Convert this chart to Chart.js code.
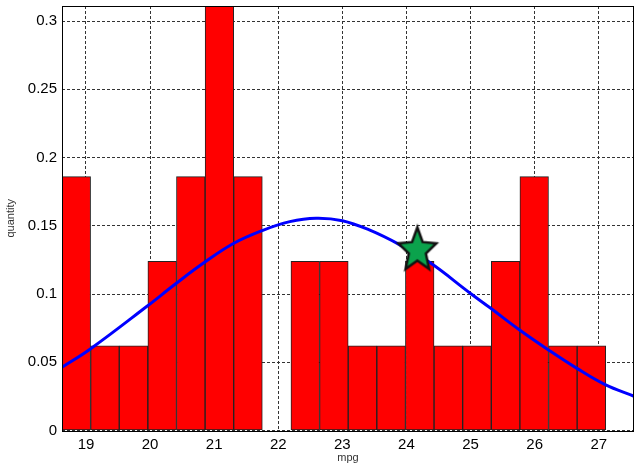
<!DOCTYPE html>
<html>
<head>
<meta charset="utf-8">
<script src="https://cdn.jsdelivr.net/npm/chart.js@4/dist/chart.umd.min.js"></script>
<style>
  html, body { margin: 0; padding: 0; background: #fff; }
</style>
</head>
<body>
<canvas id="histChart" width="636" height="468"></canvas>
<script>
// histogram bins (centres) and heights
const binCenters = [18.849, 19.296, 19.742, 20.189, 20.635, 21.082, 21.528, 21.975, 22.421, 22.868,
                    23.314, 23.761, 24.207, 24.654, 25.100, 25.547, 25.993, 26.440, 26.886];
const binHeights = [0.186, 0.062, 0.062, 0.124, 0.186, 0.312, 0.186, 0, 0.124, 0.124,
                    0.062, 0.062, 0.124, 0.062, 0.062, 0.124, 0.186, 0.062, 0.062];

// fitted curve
const curveX = [18.626, 19.062, 19.952, 20.40, 20.85, 21.30, 21.75, 22.18, 22.59, 23.00,
                23.42, 23.89, 24.36, 25.00, 25.31, 25.76, 26.21, 26.66, 27.10, 27.55];
const curveY = [0.0463, 0.0595, 0.0910, 0.1075, 0.1232, 0.1370, 0.1465, 0.1530, 0.1555, 0.1537,
                0.1469, 0.1362, 0.1232, 0.1004, 0.0897, 0.0738, 0.0592, 0.0455, 0.0336, 0.0251];

// star marker
const starX = [24.17];
const starY = [0.132];

const xTicks = [19, 20, 21, 22, 23, 24, 25, 26, 27];
const xTickLabels = ["19", "20", "21", "22", "23", "24", "25", "26", "27"];
const yTicks = [0, 0.05, 0.1, 0.15, 0.2, 0.25, 0.3];
const yTickLabels = ["0", "0.05", "0.1", "0.15", "0.2", "0.25", "0.3"];

const FONT = "'Liberation Sans', Arial, sans-serif";

// pentagram image used as point style
function makeStar(rx, ry) {
    const c = document.createElement("canvas");
    c.width = Math.ceil(rx * 2 + 8);
    c.height = Math.ceil(ry * 2 + 8);
    const g = c.getContext("2d");
    const cx = c.width / 2, cy = c.height / 2;
    g.beginPath();
    for (let i = 0; i < 10; i++) {
        const a = -Math.PI / 2 + i * Math.PI / 5;
        const k = i % 2 === 0 ? 1 : 0.45;
        const px = cx + Math.cos(a) * rx * k;
        const py = cy + Math.sin(a) * ry * k;
        if (i === 0) g.moveTo(px, py); else g.lineTo(px, py);
    }
    g.closePath();
    g.fillStyle = "#0ba24c";
    g.fill();
    g.lineWidth = 2.5;
    g.lineJoin = "miter";
    g.strokeStyle = "#111";
    g.stroke();
    return c;
}

// solid box round the plot area
const frame = {
    id: "frame",
    afterDatasetsDraw(chart) {
        const a = chart.chartArea;
        const ctx = chart.ctx;
        ctx.save();
        ctx.strokeStyle = "#000";
        ctx.lineWidth = 1;
        ctx.strokeRect(Math.round(a.left) + 0.5, Math.round(a.top) + 0.5,
                       Math.round(a.right - a.left) - 1, Math.round(a.bottom - a.top));
        ctx.restore();
    }
};

function noPad(s) {
    s.paddingTop = 0;
    s.paddingBottom = 0;
    s.paddingLeft = 0;
    s.paddingRight = 0;
}

const ctx = document.getElementById("histChart").getContext("2d");

new Chart(ctx, {
    type: "bar",
    data: {
        datasets: [
            {
                type: "scatter",
                data: starX.map((x, i) => ({ x: x, y: starY[i] })),
                pointStyle: makeStar(20, 23),
                pointRadius: 20,
                order: 0
            },
            {
                type: "line",
                data: curveX.map((x, i) => ({ x: x, y: curveY[i] })),
                borderColor: "#0000ff",
                borderWidth: 3,
                pointRadius: 0,
                tension: 0.4,
                fill: false,
                order: 1
            },
            {
                type: "bar",
                data: binCenters.map((x, i) => ({ x: x, y: binHeights[i] })),
                backgroundColor: "#ff0000",
                borderColor: "#222",
                borderWidth: 1,
                borderSkipped: false,
                barPercentage: 1,
                categoryPercentage: 1,
                order: 2
            }
        ]
    },
    options: {
        responsive: false,
        animation: false,
        events: [],
        layout: { autoPadding: false, padding: { top: 6, right: 2, left: 0, bottom: 0 } },
        plugins: { legend: { display: false }, tooltip: { enabled: false } },
        scales: {
            x: {
                type: "linear",
                min: 18.626,
                max: 27.55,
                offset: false,
                afterBuildTicks: s => { s.ticks = xTicks.map(v => ({ value: v })); },
                afterFit: s => { s.height = 37.5; noPad(s); },
                grid: { color: "#333", lineWidth: 1, drawTicks: false, offset: false },
                border: { display: false, dash: [3, 2] },
                ticks: {
                    padding: 5,
                    maxRotation: 0,
                    color: "#000",
                    font: { family: FONT, size: 15 },
                    callback: (v, i) => xTickLabels[i]
                },
                title: {
                    display: true,
                    text: "mpg",
                    color: "#333",
                    font: { family: FONT, size: 11 },
                    padding: { top: 0, bottom: 3 }
                }
            },
            y: {
                min: 0,
                max: 0.311,
                afterBuildTicks: s => { s.ticks = yTicks.map(v => ({ value: v })); },
                afterFit: s => { s.width = 62; noPad(s); },
                grid: { color: "#333", lineWidth: 1, drawTicks: false },
                border: { display: false, dash: [3, 2] },
                ticks: {
                    padding: 5,
                    color: "#000",
                    font: { family: FONT, size: 15 },
                    callback: (v, i) => yTickLabels[i]
                },
                title: {
                    display: true,
                    text: "quantity",
                    color: "#333",
                    font: { family: FONT, size: 11 },
                    padding: { top: 4, bottom: 0 }
                }
            }
        }
    },
    plugins: [frame]
});
</script>
</body>
</html>
